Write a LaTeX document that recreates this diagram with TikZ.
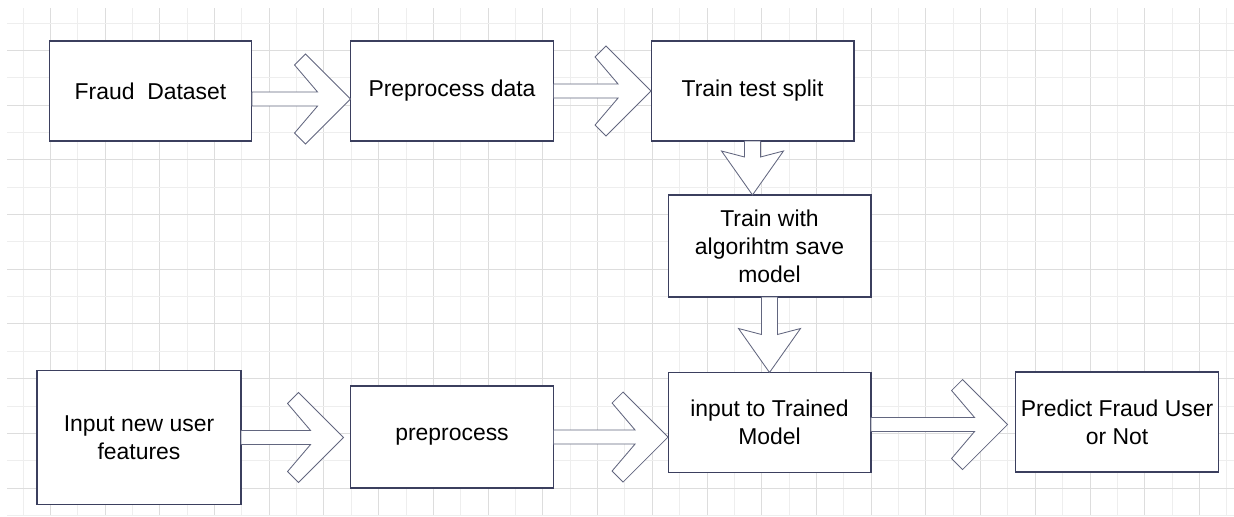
\documentclass[tikz,border=0pt]{standalone}
\usepackage{fontspec}
\setmainfont{Liberation Sans}
\usetikzlibrary{calc}

\definecolor{boxline}{HTML}{3B3F5E}
\definecolor{arrline}{HTML}{62667F}
\definecolor{gridlight}{HTML}{EEEEEE}
\definecolor{griddark}{HTML}{DDDDDD}

\tikzset{
  box/.style={draw=boxline, line width=0.8pt, fill=white, align=center,
    minimum width=5.07cm, minimum height=2.5cm, inner sep=0pt, outer sep=0pt,
    font=\fontsize{16.3}{20}\selectfont},
  blockarrow/.style={draw=arrline, line width=0.6pt, fill=white, line join=miter}
}

% chevron arrow: from, to, vertical offset, gap before target (px)
\newcommand{\rightblock}[4]{%
  \path (#1) ++(0,#3) coordinate (s);
  \path (#2 |- s) ++(-#4,0) coordinate (t);
  \draw[blockarrow] ($(s)+(0,-7)$) -- ($(t)+(-33,-7)$) -- ($(t)+(-56,-34)$)
    -- ($(t)+(-45,-45)$) -- (t) -- ($(t)+(-45,45)$) -- ($(t)+(-56,34)$)
    -- ($(t)+(-33,7)$) -- ($(s)+(0,7)$) -- cycle;}
% triangle-head arrow pointing down: from, to
\newcommand{\downblock}[2]{%
  \path (#1) coordinate (s);
  \path (s |- #2) coordinate (t);
  \draw[blockarrow] ($(s)+(-8,0)$) -- ($(t)+(-8,-38)$) -- ($(t)+(-31,-44)$)
    -- (t) -- ($(t)+(31,-44)$) -- ($(t)+(8,-38)$) -- ($(s)+(8,0)$) -- cycle;}

\begin{document}
\begin{tikzpicture}[x=0.025cm, y=-0.025cm]
\useasboundingbox (0,0) rectangle (1234,516);
\fill[white] (0,0) rectangle (1234,516);
\foreach \i in {0,2,...,44} \draw[gridlight, line width=0.7pt] ({23+27.36*\i},8) -- ({23+27.36*\i},516);
\foreach \i in {1,3,...,43} \draw[griddark, line width=0.7pt] ({23+27.36*\i},8) -- ({23+27.36*\i},516);
\foreach \j in {0,2,...,18} \draw[gridlight, line width=0.7pt] (7,{23+27.36*\j}) -- (1234,{23+27.36*\j});
\foreach \j in {1,3,...,17} \draw[griddark, line width=0.7pt] (7,{23+27.36*\j}) -- (1234,{23+27.36*\j});

\node[box] (data) at (150.5,91) {Fraud~~Dataset};
\node[box] (prep) at (452,91) {Preprocess data};
\node[box] (split) at (752.5,91) {Train test split};
\node[box, minimum height=2.55cm] (train) at (769.5,246) {Train with\\algorihtm save\\model};
\node[box] (model) at (769.5,422.5) {input to Trained\\Model};
\node[box, minimum width=5.1cm, minimum height=3.33cm] (newin) at (139,437.5) {Input new user\\features};
\node[box, minimum height=2.55cm] (prep2) at (452,437) {preprocess};
\node[box] (predict) at (1117,422) {Predict Fraud User\\or Not};

\rightblock{data.east}{prep.west}{8}{0}
\rightblock{prep.east}{split.west}{0}{0}
\downblock{split.south}{train.north}
\downblock{train.south}{model.north}
\rightblock{newin.east}{prep2.west}{0}{7}
\rightblock{prep2.east}{model.west}{0}{0}
\rightblock{model.east}{predict.west}{2}{8}
\end{tikzpicture}
\end{document}
